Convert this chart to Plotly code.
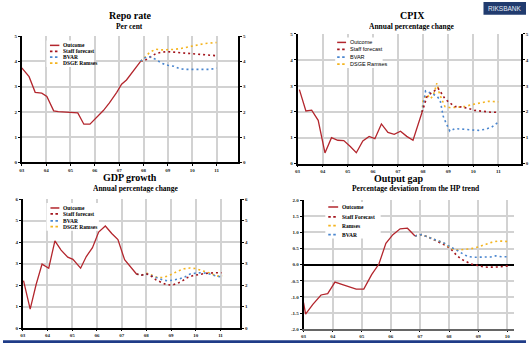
import plotly.graph_objects as go

W, H = 529, 346

# ---------------- data ----------------
year_ticks = [2003, 2004, 2005, 2006, 2007, 2008, 2009, 2010, 2011]
year_labels = ["03", "04", "05", "06", "07", "08", "09", "10", "11"]

# Repo rate
repo_out_t = [2003.0, 2003.3, 2003.55, 2003.82, 2004.03, 2004.31, 2004.5, 2005.3, 2005.55, 2005.8,
              2006.35, 2006.6, 2006.9, 2007.1, 2007.3, 2007.5, 2007.7, 2007.88]
repo_out_v = [3.74, 3.39, 2.77, 2.74, 2.61, 2.04, 2.01, 1.96, 1.51, 1.51,
              2.05, 2.35, 2.77, 3.09, 3.26, 3.5, 3.75, 4.0]
repo_fc_t = [2007.88, 2008.0, 2008.25, 2008.5, 2008.75, 2009.0, 2009.25, 2009.5, 2009.75,
             2010.0, 2010.25, 2010.5, 2010.75, 2011.0]
repo_staff = [4.0, 4.0, 4.15, 4.3, 4.36, 4.38, 4.36, 4.34, 4.32, 4.3, 4.27, 4.25, 4.23, 4.22]
repo_bvar = [4.0, 4.12, 4.18, 4.08, 3.92, 3.84, 3.8, 3.7, 3.68, 3.68, 3.67, 3.67, 3.68, 3.73]
repo_dsge = [4.0, 4.1, 4.35, 4.48, 4.45, 4.45, 4.47, 4.5, 4.56, 4.6, 4.65, 4.7, 4.73, 4.74]

# CPIX
cpix_out_t = [2003.07, 2003.33, 2003.56, 2003.82, 2004.09, 2004.35, 2004.6, 2004.84, 2005.1, 2005.34,
              2005.6, 2005.85, 2006.08, 2006.34, 2006.6, 2006.85, 2007.1, 2007.35, 2007.6, 2007.9, 2007.96]
cpix_out_v = [2.85, 2.03, 2.06, 1.67, 0.41, 1.0, 0.9, 0.89, 0.66, 0.42,
              0.87, 1.05, 0.96, 1.53, 1.2, 1.13, 1.25, 1.05, 0.9, 1.8, 1.98]
cpix_staff_t = [2007.96, 2008.05, 2008.15, 2008.3, 2008.5, 2008.6, 2008.74, 2008.87, 2009.05, 2009.27,
                2009.53, 2009.8, 2010.07, 2010.33, 2010.73, 2011.0]
cpix_staff_v = [1.98, 2.24, 2.57, 2.7, 2.85, 2.9, 2.7, 2.5, 2.35, 2.2,
                2.18, 2.13, 2.05, 2.02, 1.98, 1.98]
cpix_bvar_t = [2007.96, 2008.1, 2008.35, 2008.55, 2008.68, 2008.74, 2008.8, 2008.9, 2008.97, 2009.07,
               2009.27, 2009.53, 2009.93, 2010.2, 2010.46, 2010.73, 2011.0]
cpix_bvar_v = [1.98, 2.8, 2.7, 2.6, 2.45, 2.08, 1.83, 1.6, 1.45, 1.25,
               1.35, 1.32, 1.3, 1.28, 1.32, 1.4, 1.6]
cpix_dsge_t = [2007.96, 2008.0, 2008.15, 2008.3, 2008.42, 2008.55, 2008.65, 2008.75, 2008.87, 2009.1,
               2009.4, 2009.67, 2009.93, 2010.3, 2010.6, 2011.0]
cpix_dsge_v = [1.98, 2.45, 2.66, 2.5, 2.65, 3.1, 2.7, 2.45, 2.2, 2.15,
               2.18, 2.2, 2.27, 2.33, 2.4, 2.38]

# GDP growth
gdp_out_t = [2003.03, 2003.3, 2003.54, 2003.78, 2004.05, 2004.3, 2004.55, 2004.82, 2005.03, 2005.34,
             2005.57, 2005.82, 2006.07, 2006.34, 2006.6, 2006.85, 2007.12, 2007.39, 2007.6]
gdp_out_v = [2.21, 0.89, 2.03, 2.98, 2.79, 4.06, 3.63, 3.3, 3.2, 2.79,
             3.33, 3.74, 4.47, 4.75, 4.4, 4.12, 3.18, 2.79, 2.52]
gdp_staff_t = [2007.6, 2007.8, 2008.03, 2008.24, 2008.4, 2008.6, 2008.8, 2009.04, 2009.27, 2009.47,
               2009.67, 2009.87, 2010.1, 2010.4, 2010.8, 2011.04]
gdp_staff_v = [2.52, 2.47, 2.52, 2.39, 2.24, 2.14, 2.03, 2.0, 2.09, 2.21,
               2.36, 2.44, 2.48, 2.55, 2.58, 2.58]
gdp_bvar_t = [2007.6, 2007.8, 2008.03, 2008.24, 2008.47, 2008.67, 2008.87, 2009.1, 2009.33, 2009.57,
              2009.77, 2010.0, 2010.24, 2010.47, 2010.67, 2010.87, 2011.04]
gdp_bvar_v = [2.52, 2.47, 2.52, 2.42, 2.33, 2.24, 2.2, 2.24, 2.29, 2.39,
              2.52, 2.56, 2.58, 2.55, 2.48, 2.41, 2.39]
gdp_dsge_t = [2007.6, 2007.8, 2008.03, 2008.24, 2008.47, 2008.67, 2008.9, 2009.1, 2009.3, 2009.53,
              2009.76, 2010.0, 2010.2, 2010.4, 2010.6, 2010.84, 2011.07]
gdp_dsge_v = [2.52, 2.47, 2.55, 2.44, 2.35, 2.36, 2.44, 2.55, 2.67, 2.76,
              2.8, 2.77, 2.71, 2.62, 2.55, 2.42, 2.44]

# Output gap
gap_out_t = [2003.0, 2003.07, 2003.32, 2003.6, 2003.83, 2004.08, 2004.34, 2004.56, 2004.81, 2005.07,
             2005.34, 2005.59, 2005.83, 2006.07, 2006.32, 2006.57, 2006.83]
gap_out_v = [-1.18, -1.53, -1.23, -0.94, -0.9, -0.54, -0.62, -0.69, -0.76, -0.76,
             -0.31, 0.02, 0.66, 0.93, 1.11, 1.13, 0.89]
gap_staff_t = [2006.83, 2007.06, 2007.34, 2007.63, 2007.9, 2008.1, 2008.25, 2008.42, 2008.6, 2008.76,
               2009.0, 2009.13, 2009.33, 2009.55, 2009.72, 2009.9, 2010.09]
gap_staff_v = [0.89, 0.93, 0.83, 0.71, 0.59, 0.45, 0.3, 0.17, 0.1, 0.02,
               -0.03, -0.06, -0.08, -0.08, -0.07, -0.05, -0.03]
gap_ramses_t = [2006.83, 2007.06, 2007.4, 2007.63, 2007.8, 2007.97, 2008.14, 2008.3, 2008.53, 2008.73,
                2008.93, 2009.1, 2009.27, 2009.46, 2009.67, 2009.84, 2010.06]
gap_ramses_v = [0.89, 0.93, 0.81, 0.74, 0.68, 0.57, 0.48, 0.45, 0.47, 0.49,
                0.53, 0.59, 0.63, 0.69, 0.73, 0.73, 0.71]
gap_bvar_t = [2006.83, 2007.06, 2007.4, 2007.63, 2007.8, 2007.97, 2008.14, 2008.3, 2008.48, 2008.65,
              2008.87, 2009.16, 2009.44, 2009.6, 2009.84, 2010.06]
gap_bvar_v = [0.89, 0.93, 0.81, 0.74, 0.68, 0.59, 0.52, 0.43, 0.33, 0.25,
              0.23, 0.23, 0.24, 0.27, 0.24, 0.25]

legend_main = ["Outcome", "Staff forecast", "BVAR", "DSGE Ramses"]
legend_gap = ["Outcome", "Staff Forecast", "Ramses", "BVAR"]

# ---------------- style ----------------
C_OUT = "#b3262d"
C_STAFF = "#a3141c"
C_BVAR = "#4a86cf"
C_DSGE = "#f4b41f"
DOT = "2px,3px"
SERIF = "Liberation Serif"

def px_x(p):
    return p / W

def px_y(p):
    return 1 - p / H

# panel geometry in pixels: left, right, top, bottom, x-range, y-range
panels = {
    1: dict(l=19, r=238, t=34.5, b=162.7, xr=[2003, 2003 + (238 - 19) / 24.625], yr=[0, 5]),
    2: dict(l=298, r=524, t=32.3, b=164, xr=[2003, 2003 + (524 - 298) / 25.375], yr=[0, 5]),
    3: dict(l=20, r=240, t=200, b=331, xr=[2003, 2003 + (240 - 20) / 25.0], yr=[0, 6]),
    4: dict(l=304, r=517, t=201, b=332, xr=[2003, 2003 + (517 - 304) / 29.43], yr=[-2, 2]),
}

fig = go.Figure()

def line(x, y, color, axis, dash=None, width=1.3):
    xa, ya = axis
    fig.add_trace(go.Scatter(x=x, y=y, mode="lines", xaxis=xa, yaxis=ya, showlegend=False,
                             hoverinfo="skip",
                             line=dict(color=color, width=width if dash is None else 1.6,
                                       dash=dash if dash else "solid")))

# panel 1
line(repo_fc_t, repo_staff, C_STAFF, ("x", "y"), DOT)
line(repo_fc_t, repo_dsge, C_DSGE, ("x", "y"), DOT)
line(repo_fc_t, repo_bvar, C_BVAR, ("x", "y"), DOT)
line(repo_out_t, repo_out_v, C_OUT, ("x", "y"))
# panel 2
line(cpix_dsge_t, cpix_dsge_v, C_DSGE, ("x2", "y2"), DOT)
line(cpix_bvar_t, cpix_bvar_v, C_BVAR, ("x2", "y2"), DOT)
line(cpix_staff_t, cpix_staff_v, C_STAFF, ("x2", "y2"), DOT)
line(cpix_out_t, cpix_out_v, C_OUT, ("x2", "y2"))
# panel 3
line(gdp_dsge_t, gdp_dsge_v, C_DSGE, ("x3", "y3"), DOT)
line(gdp_bvar_t, gdp_bvar_v, C_BVAR, ("x3", "y3"), DOT)
line(gdp_staff_t, gdp_staff_v, C_STAFF, ("x3", "y3"), DOT)
line(gdp_out_t, gdp_out_v, C_OUT, ("x3", "y3"))
# panel 4
line(gap_staff_t, gap_staff_v, C_STAFF, ("x4", "y4"), DOT)
line(gap_ramses_t, gap_ramses_v, C_DSGE, ("x4", "y4"), DOT)
line(gap_bvar_t, gap_bvar_v, C_BVAR, ("x4", "y4"), DOT)
line(gap_out_t, gap_out_v, C_OUT, ("x4", "y4"))

# invisible traces so right-hand axes get drawn
for xa, ya in [("x", "y5"), ("x2", "y6"), ("x3", "y7")]:
    fig.add_trace(go.Scatter(x=[], y=[], xaxis=xa, yaxis=ya, showlegend=False, hoverinfo="skip"))

tickfont = dict(family=SERIF, size=5, color="#222", weight="bold")
GRID = "#d2d2d2"

layout = dict(width=W, height=H, margin=dict(l=0, r=0, t=0, b=0),
              paper_bgcolor="white", plot_bgcolor="white", showlegend=False)

for i, p in panels.items():
    sx = "" if i == 1 else str(i)
    nyears = 9 if i < 4 else 8
    layout["xaxis" + sx] = dict(
        domain=[px_x(p["l"]), px_x(p["r"])], range=p["xr"], anchor="y" + sx,
        tickvals=year_ticks[:nyears], ticktext=year_labels[:nyears],
        showgrid=True, gridcolor=GRID, gridwidth=1.5, zeroline=False,
        showline=True, linecolor="black" if i < 4 else "#666", linewidth=1.5,
        ticks="outside", ticklen=1.5, tickcolor="black", tickfont=tickfont, fixedrange=True)
    if i < 4:
        yt = list(range(p["yr"][0], p["yr"][1] + 1))
        ytt = [str(v) for v in yt]
    else:
        yt = [-2.0, -1.5, -1.0, -0.5, 0.0, 0.5, 1.0, 1.5, 2.0]
        ytt = ["%.1f" % v for v in yt]
    layout["yaxis" + sx] = dict(
        domain=[px_y(p["b"]), px_y(p["t"])], range=p["yr"], anchor="x" + sx,
        tickvals=yt, ticktext=ytt, showgrid=True, gridcolor=GRID, gridwidth=1.5,
        zeroline=(i == 4), zerolinecolor="black", zerolinewidth=1.5,
        showline=True, linecolor="black", linewidth=1.5,
        ticks="outside", ticklen=2, tickcolor="black", tickfont=tickfont, fixedrange=True)

for k, base in [(5, 1), (6, 2), (7, 3)]:
    p = panels[base]
    sx = "" if base == 1 else str(base)
    yt = list(range(p["yr"][0], p["yr"][1] + 1))
    layout["yaxis%d" % k] = dict(
        overlaying="y" + sx, side="right", anchor="x" + sx, range=p["yr"],
        tickvals=yt, ticktext=[str(v) for v in yt], showgrid=False, zeroline=False,
        showline=True, linecolor="black", linewidth=1.5,
        ticks="outside", ticklen=2, tickcolor="black", tickfont=tickfont, fixedrange=True)

fig.update_layout(**layout)

shapes = []
annotations = []

# titles
titles = [
    (128, 14, "Repo rate", 10), (128, 24.5, "Per cent", 7.5),
    (414, 14, "CPIX", 10), (414, 24.5, "Annual percentage change", 7.5),
    (128, 178.5, "GDP growth", 10), (135, 189, "Annual percentage change", 7.5),
    (401, 179.5, "Output gap", 10), (418, 189.5, "Percentage deviation from the HP trend", 7.5),
]
for x, y, txt, size in titles:
    annotations.append(dict(x=px_x(x), y=px_y(y), xref="paper", yref="paper", text="<b>%s</b>" % txt,
                            showarrow=False, xanchor="center", yanchor="middle",
                            height=size + 1, borderpad=0,
                            font=dict(family=SERIF, size=size, color="black")))

# legends (drawn manually)
def legend(box, x0, x1, ys, names, colors, family):
    shapes.append(dict(type="rect", xref="paper", yref="paper", x0=px_x(box[0]), x1=px_x(box[1]),
                       y0=px_y(box[3]), y1=px_y(box[2]), fillcolor="white", line=dict(width=0),
                       layer="above"))
    for j, (yy, nm, col) in enumerate(zip(ys, names, colors)):
        shapes.append(dict(type="line", xref="paper", yref="paper", x0=px_x(x0), x1=px_x(x1),
                           y0=px_y(yy), y1=px_y(yy), layer="above",
                           line=dict(color=col, width=1.5 if j == 0 else 1.8,
                                     dash="solid" if j == 0 else "2.5px,2.5px")))
        annotations.append(dict(x=px_x(x1 + 1.5), y=px_y(yy), xref="paper", yref="paper", text=nm,
                                showarrow=False, xanchor="left", yanchor="middle",
                                font=dict(family=family, size=5.5, color="black",
                                          weight="bold" if family == SERIF else "normal")))

cols_main = [C_OUT, C_STAFF, C_BVAR, C_DSGE]
legend((44, 92, 39, 66), 47.5, 57, [44, 50, 56, 62], legend_main, cols_main, SERIF)
legend((336, 384, 36, 67), 338, 347, [41, 48, 56, 63], legend_main, cols_main, "Liberation Sans")
legend((44, 97, 204, 232), 48, 57, [209, 215, 222, 228], legend_main, cols_main, SERIF)
legend((326, 382, 203, 240), 329, 339, [208, 218, 227, 236], legend_gap,
       [C_OUT, C_STAFF, C_DSGE, C_BVAR], SERIF)

# Riksbank logo box and bottom rule
shapes.append(dict(type="rect", xref="paper", yref="paper", x0=px_x(486), x1=1, y0=px_y(13), y1=1,
                   fillcolor="#213b6e", line=dict(width=0), layer="above"))
annotations.append(dict(x=px_x(507.5), y=px_y(6.5), xref="paper", yref="paper", text="RIKSBANK",
                        showarrow=False, xanchor="center", yanchor="middle",
                        font=dict(family="Liberation Sans", size=6.5, color="#e6ecf5")))
shapes.append(dict(type="rect", xref="paper", yref="paper", x0=0, x1=1, y0=0, y1=px_y(343.3),
                   fillcolor="#1f3c88", line=dict(width=0), layer="above"))

fig.update_layout(shapes=shapes, annotations=annotations)
fig.write_html("out.html", config={"displayModeBar": False},
               post_script="document.body.style.margin='0';document.body.style.overflow='hidden';")
